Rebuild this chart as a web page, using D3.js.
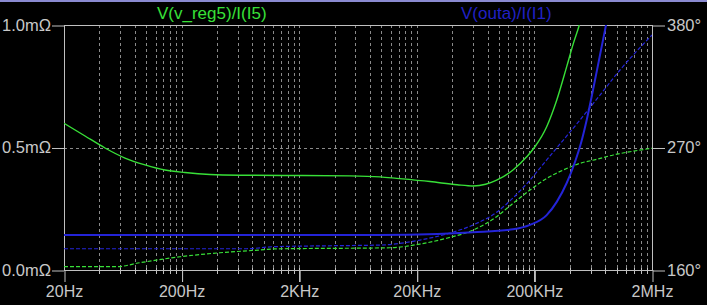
<!DOCTYPE html>
<html>
<head>
<meta charset="utf-8">
<script src="https://cdn.jsdelivr.net/npm/d3@7"></script>
<style>
  html, body { margin: 0; padding: 0; background: #000; }
  svg { display: block; }
  text { font-family: "Liberation Sans", Arial, sans-serif; }
</style>
</head>
<body>
<svg width="707" height="305"></svg>
<script>
'use strict'

// trace names (LTspice bode plot, solid = magnitude, dashed = phase)
var traceNames = ["V(v_reg5)/I(I5)", "V(outa)/I(I1)"];

// x ticks
var freqTicks = [20, 200, 2000, 20000, 200000, 2000000];
var freqLabels = ["20Hz", "200Hz", "2KHz", "20KHz", "200KHz", "2MHz"];

// left axis (mOhm) and right axis (degrees)
var magTicks = [0, 0.5, 1.0];
var magLabels = ["0.0m\u03A9", "0.5m\u03A9", "1.0m\u03A9"];
var phaseTicks = [160, 270, 380];
var phaseLabels = ["160\u00B0", "270\u00B0", "380\u00B0"];

// [freq Hz, mOhm]
var greenMag = [
  [20, 0.599], [30.2, 0.547], [44.6, 0.498], [66, 0.457], [97.7, 0.429], [144.5, 0.408],
  [213.8, 0.398], [348.8, 0.390], [627.6, 0.387], [1500, 0.386], [5400, 0.384],
  [9730, 0.380], [13500, 0.374], [25900, 0.361], [44000, 0.348], [60400, 0.343],
  [77000, 0.350], [95500, 0.367], [131500, 0.408], [172000, 0.462], [202000, 0.503],
  [254400, 0.585], [310000, 0.694], [376500, 0.830], [429000, 0.925], [482000, 1.0],
  [540000, 1.09]
];

var blueMag = [
  [20, 0.143], [9730, 0.143], [30000, 0.147], [60100, 0.154], [131500, 0.166],
  [183500, 0.184], [254400, 0.224], [309800, 0.278], [376500, 0.355], [442800, 0.441],
  [498200, 0.518], [556800, 0.612], [617600, 0.714], [681300, 0.816], [736800, 0.898],
  [812600, 1.0], [914200, 1.14]
];

// [freq Hz, degrees]
var greenPhase = [
  [20, 163.0], [56, 163.0], [89, 166.6], [194, 171.9], [424, 175.5], [928, 178.0],
  [1196, 178.9], [11830, 180.0], [21290, 183.3], [35920, 188.5], [60400, 195.9],
  [95500, 207.9], [131500, 219.9], [183500, 231.8], [254400, 242.3], [352200, 249.8],
  [488400, 255.8], [677600, 259.4], [937600, 263.3], [1300000, 266.2], [2000000, 269.3]
];

var bluePhase = [
  [20, 179.1], [719, 179.1], [1196, 180.9], [3876, 181.8], [9730, 182.4],
  [21290, 186.9], [38320, 193.2], [60100, 200.4], [96200, 212.1], [131500, 224.7],
  [183500, 240.8], [254400, 258.8], [352200, 276.7], [488400, 294.7], [722600, 317.1],
  [1069000, 339.6], [1462000, 355.8], [2000000, 371.0]
];

var svg = d3.select("svg"),
  margin = { top: 25, right: 55, bottom: 35, left: 64 },
  W = +svg.attr("width"),
  H = +svg.attr("height"),
  width = W - margin.left - margin.right,
  height = H - margin.top - margin.bottom;

var axisColor = "#c0c0c0",
  gridColor = "#8a8a8a",
  textColor = "#c8c8c8",
  green = "#38e038",
  blue = "#2424d8";

var x = d3.scaleLog().domain([20, 2000000]).range([0, width]),
  yMag = d3.scaleLinear().domain([0, 1]).range([height, 0]),
  yPh = d3.scaleLinear().domain([160, 380]).range([height, 0]);

svg.append("rect").attr("width", W).attr("height", H).attr("fill", "#000");
// window border on top
svg.append("rect").attr("width", W).attr("height", 2).attr("fill", "#8a8ad0");

svg.append("defs").append("clipPath")
  .attr("id", "clip")
  .append("rect")
  .attr("width", width)
  .attr("height", height);

var g = svg.append("g")
  .attr("transform", "translate(" + margin.left + "," + margin.top + ")");

// grid: LTspice puts lines at 20*10^k * m, m = 2..10
var gridFreqs = [];
for (var k = 0; k < 5; k++) {
  for (var m = 2; m <= 10; m++) {
    gridFreqs.push(20 * Math.pow(10, k) * m);
  }
}
gridFreqs = gridFreqs.filter(function(f) { return f < 2000000; });

g.selectAll(".vgrid")
  .data(gridFreqs)
  .enter()
  .append("line")
  .attr("class", "vgrid")
  .attr("x1", function(d) { return Math.round(x(d)) + 0.5; })
  .attr("x2", function(d) { return Math.round(x(d)) + 0.5; })
  .attr("y1", 0)
  .attr("y2", height)
  .attr("stroke", gridColor)
  .attr("stroke-dasharray", "3,3");

g.append("line")
  .attr("x1", 0)
  .attr("x2", width)
  .attr("y1", Math.round(yMag(0.5)) + 0.5)
  .attr("y2", Math.round(yMag(0.5)) + 0.5)
  .attr("stroke", gridColor)
  .attr("stroke-dasharray", "3,3");

// small ticks under the bottom axis
g.selectAll(".mtick")
  .data(gridFreqs)
  .enter()
  .append("line")
  .attr("x1", function(d) { return Math.round(x(d)) + 0.5; })
  .attr("x2", function(d) { return Math.round(x(d)) + 0.5; })
  .attr("y1", height - 2)
  .attr("y2", function(d) {
    return freqTicks.indexOf(d) >= 0 ? height + 12 : height + 4;
  })
  .attr("stroke", axisColor);

// frame
g.append("rect")
  .attr("x", 0.5)
  .attr("y", 0.5)
  .attr("width", width)
  .attr("height", height)
  .attr("fill", "none")
  .attr("stroke", axisColor);

// x axis labels
var xAxis = d3.axisBottom(x)
  .tickValues(freqTicks)
  .tickFormat(function(d, i) { return freqLabels[i]; })
  .tickSize(12)
  .tickPadding(4);

var gx = g.append("g")
  .attr("transform", "translate(0," + height + ")")
  .call(xAxis);
gx.select(".domain").remove();
gx.selectAll("line").attr("stroke", axisColor).attr("transform", "translate(0.5,0)");
gx.selectAll("text")
  .attr("fill", textColor)
  .style("font-size", "16px")
  .style("font-family", "'Liberation Sans', Arial, sans-serif");

// left axis
var gl = g.append("g")
  .call(d3.axisLeft(yMag)
    .tickValues(magTicks)
    .tickFormat(function(d, i) { return magLabels[i]; })
    .tickSize(12)
    .tickPadding(1));
gl.select(".domain").remove();
gl.selectAll("line").attr("stroke", axisColor).attr("transform", "translate(0,0.5)");
gl.selectAll("text")
  .attr("fill", textColor)
  .style("font-size", "16.5px")
  .style("font-family", "'Liberation Sans', Arial, sans-serif");

// right axis
var gr = g.append("g")
  .attr("transform", "translate(" + (width + 1) + ",0)")
  .call(d3.axisRight(yPh)
    .tickValues(phaseTicks)
    .tickFormat(function(d, i) { return phaseLabels[i]; })
    .tickSize(12)
    .tickPadding(2));
gr.select(".domain").remove();
gr.selectAll("line").attr("stroke", axisColor).attr("transform", "translate(0,0.5)");
gr.selectAll("text")
  .attr("fill", textColor)
  .style("font-size", "16.5px")
  .style("font-family", "'Liberation Sans', Arial, sans-serif");

// traces
var traces = g.append("g").attr("clip-path", "url(#clip)");

var magLine = d3.line()
  .curve(d3.curveMonotoneX)
  .x(function(d) { return x(d[0]); })
  .y(function(d) { return yMag(d[1]); });

var phLine = d3.line()
  .curve(d3.curveMonotoneX)
  .x(function(d) { return x(d[0]); })
  .y(function(d) { return yPh(d[1]); });

traces.append("path")
  .datum(greenPhase)
  .attr("d", phLine)
  .attr("fill", "none")
  .attr("stroke", green)
  .attr("stroke-width", 1.2)
  .attr("stroke-dasharray", "4,2");

traces.append("path")
  .datum(bluePhase)
  .attr("d", phLine)
  .attr("fill", "none")
  .attr("stroke", blue)
  .attr("stroke-width", 1.2)
  .attr("stroke-dasharray", "4,2");

traces.append("path")
  .datum(blueMag)
  .attr("d", magLine)
  .attr("fill", "none")
  .attr("stroke", blue)
  .attr("stroke-width", 2);

traces.append("path")
  .datum(greenMag)
  .attr("d", magLine)
  .attr("fill", "none")
  .attr("stroke", green)
  .attr("stroke-width", 1.4);

// trace titles
svg.append("text")
  .attr("x", 157)
  .attr("y", 19)
  .attr("fill", green)
  .style("font-size", "17px")
  .text(traceNames[0]);

svg.append("text")
  .attr("x", 461)
  .attr("y", 19)
  .attr("fill", "#2020c4")
  .style("font-size", "17px")
  .text(traceNames[1]);
</script>
</body>
</html>
